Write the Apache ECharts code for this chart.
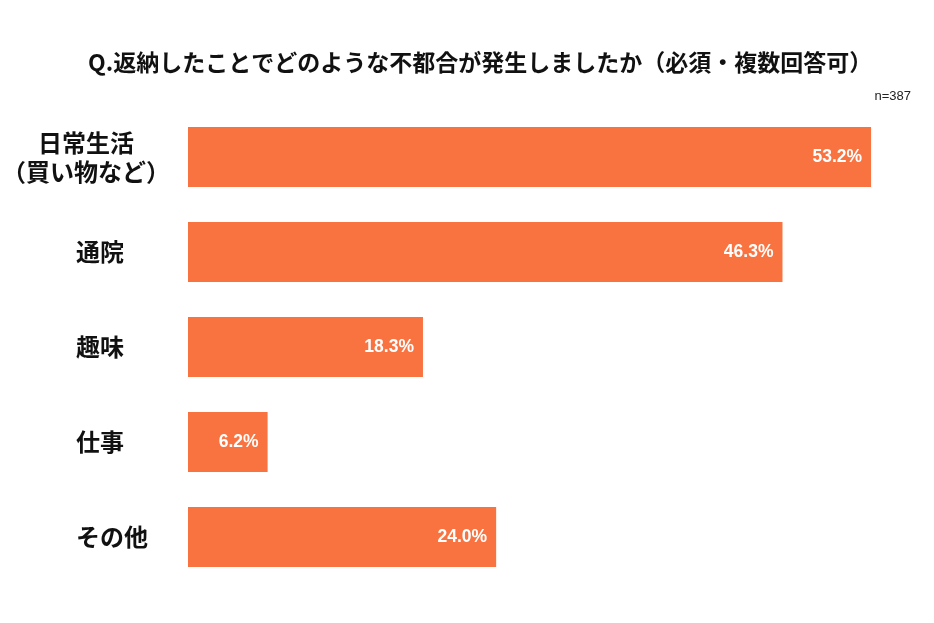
<!DOCTYPE html>
<html><head><meta charset="utf-8">
<script src="https://cdn.jsdelivr.net/npm/echarts@6/dist/echarts.min.js"></script>
<style>html,body{margin:0;padding:0;background:#fff}#c{width:934px;height:623px}</style>
</head><body><div id="c"></div>
<script>
const categories = ['日常生活\n（買い物など）', '通院', '趣味', '仕事', 'その他'];
const values = [53.2, 46.3, 18.3, 6.2, 24.0];
const titleText = 'Q.返納したことでどのような不都合が発生しましたか（必須・複数回答可）';
const noteText = 'n=387';

const labelFont = {fontFamily: 'Noto Sans CJK JP', fontWeight: 'bold', fontSize: 24, color: '#111'};
const chart = echarts.init(document.getElementById('c'));
chart.setOption({
  backgroundColor: '#fff',
  animation: false,
  title: [{
    text: titleText, left: 83, top: 46,
    textStyle: {fontFamily: 'Noto Sans CJK JP', fontWeight: 'bold', fontSize: 23, color: '#111'}
  }, {
    text: noteText, right: 18, top: 85,
    textStyle: {fontFamily: 'Liberation Sans', fontWeight: 'normal', fontSize: 13, color: '#222'}
  }],
  grid: {left: 188, top: 109.5, height: 475, width: 706.2, containLabel: false, outerBoundsMode: 'none'},
  xAxis: {type: 'value', min: 0, max: 55, show: false},
  yAxis: [{
    type: 'category', data: categories, inverse: true, position: 'left',
    axisLine: {show: false}, axisTick: {show: false},
    axisLabel: Object.assign({align: 'left', margin: 112,
      formatter: (v, i) => i === 0 ? '' : v}, labelFont)
  }, {
    type: 'category', data: categories, inverse: true, position: 'left',
    axisLine: {show: false}, axisTick: {show: false},
    axisLabel: Object.assign({align: 'center', margin: 102, lineHeight: 29,
      formatter: (v, i) => i === 0 ? v : ''}, labelFont)
  }],
  series: [{
    type: 'bar', data: values, barWidth: 60, itemStyle: {color: '#F97340'},
    label: {show: true, position: 'insideRight', distance: 9, formatter: p => p.value.toFixed(1) + '%',
      color: '#fff', fontFamily: 'Liberation Sans', fontWeight: 'bold', fontSize: 17.5}
  }]
});
</script></body></html>
